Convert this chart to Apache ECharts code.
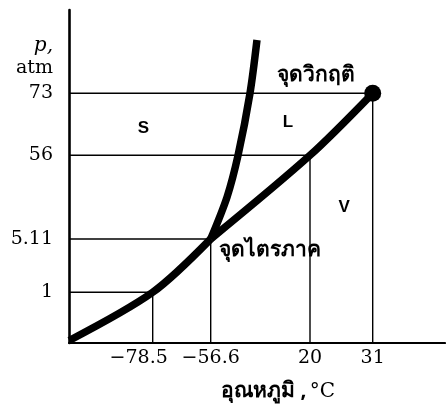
<!DOCTYPE html>
<html>
<head>
<meta charset="utf-8">
<script src="https://cdn.jsdelivr.net/npm/echarts@6/dist/echarts.min.js"></script>
<style>
html,body{margin:0;padding:0;background:#fff;}
#chart{width:446px;height:408px;}
</style>
</head>
<body>
<div id="chart"></div>
<script>
// ---- data (real units: temperature °C, pressure atm) ----
const xTickValues = [-78.5, -56.6, 20, 31];
const xTickLabels = ['−78.5', '−56.6', '20', '31'];
const yTickValues = [1, 5.11, 56, 73];
const yTickLabels = ['1', '5.11', '56', '73'];
const sublimation = [[-110, 0.05], [-78.5, 1], [-56.6, 5.11]];
const fusion = [[-56.6, 5.11], [-44, 30.6], [-35.5, 56], [-26.3, 73], [-20.9, 87.6]];
const vaporization = [[-56.6, 5.11], [20, 56], [31, 73]];
const triplePoint = [-56.6, 5.11];
const criticalPoint = [31, 73];
const regionNames = ['S', 'L', 'V'];
const regionT = [-82, 3, 26];
const regionP = [63.5, 65, 24.6];
const tripleName = 'จุดไตรภาค';
const criticalName = 'จุดวิกฤติ';
const xTitleWord = 'อุณหภูมิ ,';
const xTitleUnit = '°C';

// ---- schematic (non-linear) scale configuration ----
const xKnotValues = [-78.5, -56.6, 20, 31];
const xKnotPos = [83.7, 141.7, 241, 303.7];
const xAxisMax = 376;
const yKnotValues = [0, 1, 5.11, 56, 73];
const yKnotPos = [0, 50.7, 104, 187.7, 249.7];
const yAxisMax = 333;

function piecewise(vals, pos, v) {
  let i = 0;
  if (v <= vals[0]) i = 0;
  else if (v >= vals[vals.length - 1]) i = vals.length - 2;
  else { while (i < vals.length - 2 && v > vals[i + 1]) i++; }
  const t = (v - vals[i]) / (vals[i + 1] - vals[i]);
  return pos[i] + t * (pos[i + 1] - pos[i]);
}
const sx = v => piecewise(xKnotValues, xKnotPos, v);
const sy = v => piecewise(yKnotValues, yKnotPos, v);
const pt = d => [sx(d[0]), sy(d[1])];

const xLabelPos = xTickValues.map(sx);
const yLabelPos = yTickValues.map(sy);

const black = '#000';
const thaiFont = "'Noto Sans', 'DejaVu Sans', sans-serif";
const serifFont = "'DejaVu Serif', serif";
const series = [];

// guide lines
xTickValues.forEach((T, i) => {
  const p = yTickValues[i];
  series.push({
    type: 'line', silent: true, symbol: 'none', animation: false,
    lineStyle: { color: black, width: 1.6 },
    data: [[0, sy(p)], [sx(T), sy(p)]]
  });
  series.push({
    type: 'line', silent: true, symbol: 'none', animation: false,
    lineStyle: { color: black, width: 1.4 },
    data: [[sx(T), 0], [sx(T), sy(p)]]
  });
});

[sublimation, fusion, vaporization].forEach(curve => {
  series.push({
    type: 'line', smooth: 0.3, symbol: 'none', animation: false,
    lineStyle: { color: black, width: 7.5, cap: 'butt' },
    data: curve.map(pt)
  });
});

series.push({
  type: 'scatter', animation: false, symbolSize: 17,
  itemStyle: { color: black, opacity: 1 },
  label: {
    show: true, position: 'inside', offset: [-57, -18],
    formatter: criticalName, color: black, fontSize: 21, fontWeight: 'bold',
    fontFamily: thaiFont
  },
  data: [pt(criticalPoint)]
});
series.push({
  type: 'scatter', animation: false, symbolSize: 1,
  itemStyle: { color: 'rgba(0,0,0,0)', opacity: 1 },
  label: {
    show: true, position: 'inside', offset: [59, 11],
    formatter: tripleName, color: black, fontSize: 21, fontWeight: 'bold',
    fontFamily: thaiFont
  },
  data: [pt(triplePoint)]
});
series.push({
  type: 'scatter', animation: false, symbolSize: 1,
  itemStyle: { color: 'rgba(0,0,0,0)', opacity: 1 },
  label: {
    show: true, position: 'inside',
    formatter: p => regionNames[p.dataIndex],
    color: black, fontSize: 17, fontWeight: 'bold',
    fontFamily: "'Liberation Sans', Arial, sans-serif"
  },
  data: regionT.map((T, i) => pt([T, regionP[i]]))
});

const chart = echarts.init(document.getElementById('chart'), null, { renderer: 'canvas' });
chart.setOption({
  backgroundColor: '#fff',
  animation: false,
  grid: { left: 69, right: 1, top: 10, bottom: 65, containLabel: false },
  xAxis: {
    type: 'value', min: 0, max: xAxisMax,
    splitLine: { show: false },
    axisLine: { show: true, onZero: false, lineStyle: { color: black, width: 2.2 } },
    axisTick: { show: false },
    axisLabel: {
      customValues: xLabelPos, margin: 6, color: black, fontSize: 19,
      fontFamily: serifFont,
      formatter: v => {
        const i = xLabelPos.findIndex(q => Math.abs(q - v) < 1e-6);
        const s = i >= 0 ? xTickLabels[i] : '';
        return i === 0 ? '{s|' + s + '}' : s;
      },
      rich: { s: { fontSize: 19, fontFamily: serifFont, color: black, padding: [0, 28, 0, 0] } }
    },
    name: '{t|' + xTitleWord + '} {c|' + xTitleUnit + '}', nameLocation: 'middle', nameGap: 38,
    nameTextStyle: {
      color: black, padding: [0, 0, 0, 42],
      rich: {
        t: { fontSize: 21, fontWeight: 'bold', fontFamily: thaiFont, color: black },
        c: { fontSize: 20, fontFamily: serifFont, color: black }
      }
    }
  },
  yAxis: {
    type: 'value', min: 0, max: yAxisMax,
    splitLine: { show: false },
    axisLine: { show: true, onZero: false, lineStyle: { color: black, width: 2.6 } },
    axisTick: { show: false },
    axisLabel: {
      customValues: yLabelPos, margin: 16, color: black, fontSize: 19,
      fontFamily: serifFont,
      formatter: v => {
        const i = yLabelPos.findIndex(q => Math.abs(q - v) < 1e-6);
        return i >= 0 ? yTickLabels[i] : '';
      }
    },
    name: '{p|p,}\n{a|atm}', nameLocation: 'end', nameGap: -25,
    nameTextStyle: {
      align: 'right', verticalAlign: 'top', padding: [0, 16, 0, 0],
      rich: {
        p: { fontSize: 20, fontStyle: 'italic', fontFamily: serifFont, color: black, lineHeight: 22, align: 'right' },
        a: { fontSize: 19, fontFamily: serifFont, color: black, lineHeight: 22, align: 'right' }
      }
    }
  },
  series: series
});
</script>
</body>
</html>
